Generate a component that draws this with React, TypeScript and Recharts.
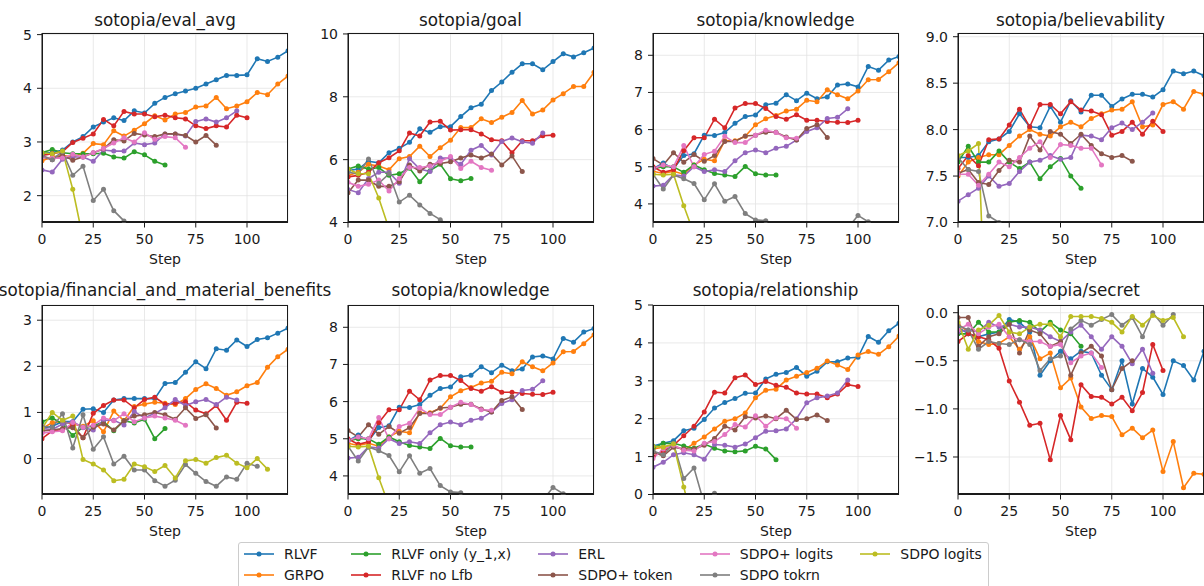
import React from "react";
import { LineChart, Line, XAxis, YAxis, CartesianGrid } from "recharts";

const STEPS = [0, 5, 10, 15, 20, 25, 30, 35, 40, 45, 50, 55, 60, 65, 70, 75, 80, 85, 90, 95, 100, 105, 110, 115, 120];
const X_TICKS = [0, 25, 50, 75, 100];

const SERIES_NAMES = [
  "RLVF",
  "GRPO",
  "RLVF only (y_1,x)",
  "RLVF no Lfb",
  "ERL",
  "SDPO+ token",
  "SDPO+ logits",
  "SDPO tokrn",
  "SDPO logits",
];
const COLORS = ["#1f77b4", "#ff7f0e", "#2ca02c", "#d62728", "#9467bd", "#8c564b", "#e377c2", "#7f7f7f", "#bcbd22"];

// one row per series, same order as SERIES_NAMES
const EVAL_AVG = [
  [2.8, 2.8, 2.85, 3.0, 3.1, 3.28, 3.37, 3.45, 3.4, 3.58, 3.54, 3.72, 3.83, 3.9, 3.95, 4.0, 4.08, 4.16, 4.24, 4.24, 4.25, 4.55, 4.5, 4.58, 4.7],
  [2.65, 2.72, 2.75, 2.72, 2.79, 2.97, 2.95, 3.21, 3.11, 3.22, 3.34, 3.49, 3.41, 3.52, 3.55, 3.65, 3.67, 3.83, 3.62, 3.67, 3.75, 3.92, 3.88, 4.08, 4.23],
  [2.8, 2.86, 2.8, 2.78, 2.78, 2.78, 2.79, 2.72, 2.7, 2.82, 2.76, 2.64, 2.57],
  [2.75, 2.78, 2.82, 2.99, 3.07, 3.15, 3.42, 3.3, 3.57, 3.52, 3.52, 3.47, 3.5, 3.45, 3.43, 3.3, 3.25, 3.3, 3.28, 3.5, 3.45],
  [2.48, 2.44, 2.68, 2.72, 2.72, 2.64, 2.85, 2.83, 2.83, 2.98, 2.95, 2.98, 3.15, 3.15, 3.11, 3.38, 3.43, 3.37, 3.45, 3.58],
  [2.72, 2.67, 2.75, 2.66, 2.72, 2.8, 2.87, 3.04, 3.02, 3.16, 3.13, 3.1, 3.15, 3.15, 3.12, 3.0, 3.12, 2.94],
  [2.72, 2.7, 2.7, 2.77, 2.72, 2.8, 2.88, 2.98, 3.08, 3.0, 3.17, 3.05, 3.1, 3.08, 2.9],
  [2.75, 2.67, 2.82, 2.38, 2.55, 1.91, 2.12, 1.72, 1.53, 1.3, 1.2, 1.1, 1.05, 1.1, 1.0, 0.95, 1.0, 0.9, 0.95, 1.0, 1.1, 1.05],
  [2.8, 2.78, 2.83, 2.12, 1.2, 0.9, 0.8, 0.7, 0.75, 0.8, 0.7, 0.75, 0.8, 0.7, 0.8, 0.85, 0.75, 0.8, 0.85, 0.8, 0.75, 0.8, 0.7],
];

const GOAL = [
  [5.65, 5.7, 5.95, 5.9, 6.22, 6.36, 6.55, 6.98, 6.87, 7.05, 7.05, 7.37, 7.65, 7.76, 8.2, 8.47, 8.78, 9.05, 9.05, 8.86, 9.12, 9.37, 9.27, 9.4, 9.55],
  [5.5, 5.6, 5.85, 5.8, 5.68, 6.03, 6.1, 6.43, 6.1, 6.38, 6.62, 7.02, 7.02, 7.3, 7.18, 7.35, 7.5, 7.88, 7.45, 7.58, 7.9, 8.1, 8.33, 8.33, 8.78],
  [5.7, 5.8, 5.7, 5.75, 5.5, 5.55, 5.73, 5.3, 5.65, 5.85, 5.39, 5.33, 5.4],
  [5.45, 5.5, 5.6, 5.9, 6.06, 6.28, 6.85, 6.75, 7.2, 7.22, 6.94, 6.95, 6.95, 6.82, 6.63, 6.6, 6.22, 6.6, 6.6, 6.76, 6.78],
  [5.05, 4.95, 5.4, 5.6, 5.6, 5.25, 6.03, 5.7, 5.62, 6.05, 6.05, 5.85, 6.3, 6.45, 6.15, 6.58, 6.69, 6.57, 6.52, 6.85],
  [4.95, 5.35, 5.35, 5.15, 5.15, 5.3, 5.83, 5.64, 5.85, 5.88, 5.93, 6.05, 6.15, 6.05, 6.18, 5.83, 6.12, 5.62],
  [5.28, 5.15, 5.22, 5.35, 5.0, 5.4, 5.75, 5.75, 5.8, 5.95, 6.1, 5.72, 5.95, 5.75, 5.66],
  [5.6, 5.55, 6.02, 5.25, 5.55, 4.65, 4.87, 4.56, 4.29, 4.09, 3.85, 3.7, 3.6, 3.5, 3.55, 3.45, 3.4, 3.5, 3.3, 3.35, 3.4, 3.3],
  [5.7, 5.55, 5.55, 4.78, 3.8, 3.3, 3.0, 2.8, 2.9, 2.7, 2.8, 2.9, 2.7, 2.8, 2.6, 2.7, 2.8, 2.7, 2.9, 2.8, 2.7, 2.8, 2.7],
];

const KNOWLEDGE = [
  [4.95, 5.1, 4.95, 5.3, 5.35, 5.85, 5.84, 5.92, 6.17, 6.35, 6.39, 6.67, 6.71, 6.94, 6.78, 6.98, 6.83, 6.88, 7.2, 7.23, 7.15, 7.7, 7.6, 7.87, 7.97],
  [4.88, 4.82, 4.88, 4.8, 5.05, 5.2, 5.16, 5.7, 5.7, 5.82, 6.13, 6.29, 6.38, 6.5, 6.55, 6.79, 6.75, 7.07, 6.94, 6.83, 7.04, 7.34, 7.35, 7.56, 7.8],
  [4.95, 5.0, 5.0, 4.85, 5.05, 4.92, 4.82, 4.78, 4.74, 5.01, 4.81, 4.78, 4.78],
  [5.0, 4.85, 4.92, 5.43, 5.78, 5.78, 6.28, 6.05, 6.58, 6.7, 6.7, 6.57, 6.35, 6.28, 6.4, 6.25, 6.25, 6.22, 6.2, 6.19, 6.25],
  [4.48, 4.5, 4.78, 4.75, 5.0, 4.87, 4.92, 4.87, 5.16, 5.38, 5.45, 5.38, 5.5, 5.55, 5.72, 5.95, 6.05, 6.3, 6.33, 6.56],
  [5.22, 5.05, 5.38, 5.12, 5.33, 5.15, 5.3, 5.68, 5.68, 5.83, 5.85, 5.93, 5.93, 5.8, 5.72, 6.03, 6.13, 5.79],
  [4.95, 5.05, 5.0, 5.57, 5.0, 5.33, 5.42, 5.82, 5.65, 5.65, 5.85, 5.98, 5.92, 5.78, 5.77],
  [4.8, 4.4, 4.78, 4.68, 4.55, 4.11, 4.54, 4.07, 4.2, 3.74, 3.57, 3.55, 3.4, 3.3, 3.2, 3.3, 3.1, 3.2, 3.3, 3.35, 3.69, 3.52],
  [4.8, 4.78, 4.8, 3.95, 3.2, 3.0, 2.8, 2.9, 2.7, 2.8, 2.6, 2.7, 2.8, 2.7, 2.6, 2.7, 2.8, 2.7, 2.6, 2.7, 2.8, 2.7, 2.6],
];

const BELIEVABILITY = [
  [7.7, 7.7, 7.72, 7.87, 7.9, 7.98, 8.17, 8.03, 8.02, 8.25, 8.08, 8.31, 8.19, 8.37, 8.37, 8.25, 8.33, 8.38, 8.38, 8.35, 8.43, 8.63, 8.6, 8.63, 8.58],
  [7.5, 7.65, 7.7, 7.73, 7.73, 7.83, 7.93, 8.0, 7.95, 7.93, 8.03, 8.08, 8.03, 8.12, 8.17, 8.21, 8.22, 8.3, 8.03, 8.05, 8.27, 8.3, 8.22, 8.41, 8.38],
  [7.65, 7.82, 7.65, 7.65, 7.77, 7.65, 7.58, 7.65, 7.47, 7.6, 7.69, 7.5, 7.37],
  [7.58, 7.72, 7.61, 7.89, 7.9, 8.05, 8.22, 8.03, 8.27, 8.27, 8.17, 8.3, 8.21, 8.2, 8.16, 7.94, 7.98, 8.08, 7.95, 8.09, 7.98],
  [7.23, 7.3, 7.37, 7.5, 7.39, 7.42, 7.55, 7.65, 7.67, 7.72, 7.68, 7.7, 7.94, 7.93, 7.89, 8.02, 8.07, 8.0, 8.08, 8.18],
  [7.53, 7.57, 7.43, 7.41, 7.56, 7.67, 7.65, 7.93, 7.78, 7.98, 7.95, 7.85, 7.95, 7.83, 7.74, 7.7, 7.72, 7.66],
  [7.52, 7.52, 7.4, 7.52, 7.65, 7.6, 7.7, 7.8, 7.87, 7.7, 7.84, 7.83, 7.8, 7.8, 7.62],
  [7.7, 7.57, 7.55, 7.07, 7.0, 6.9, 6.8, 6.85, 6.7, 6.75, 6.6, 6.7, 6.65, 6.6, 6.7, 6.55, 6.6, 6.65, 6.5, 6.6, 6.55, 6.6],
  [7.72, 7.77, 7.85, 5.0, 4.8, 4.6, 4.7, 4.5, 4.6, 4.5, 4.4, 4.6, 4.5, 4.4, 4.5, 4.6, 4.5, 4.4, 4.5, 4.6, 4.5, 4.4, 4.5],
];

const FINANCIAL = [
  [0.65, 0.7, 0.8, 0.8, 1.07, 1.08, 1.0, 1.27, 1.3, 1.3, 1.3, 1.3, 1.63, 1.65, 1.87, 2.1, 1.95, 2.38, 2.35, 2.57, 2.43, 2.58, 2.62, 2.72, 2.83],
  [0.65, 0.78, 0.8, 0.75, 0.7, 0.82, 0.58, 1.03, 0.82, 1.13, 1.18, 1.22, 1.2, 1.17, 1.3, 1.5, 1.62, 1.52, 1.37, 1.45, 1.58, 1.65, 1.98, 2.21, 2.37],
  [0.8, 0.88, 0.75, 0.5, 0.68, 0.7, 0.8, 0.6, 0.82, 0.77, 0.85, 0.43, 0.65],
  [0.43, 0.6, 0.63, 0.72, 0.45, 0.98, 1.15, 1.27, 1.27, 1.1, 1.28, 1.33, 1.18, 1.2, 1.23, 1.05, 0.97, 1.15, 0.83, 1.22, 1.2],
  [0.65, 0.63, 0.75, 0.8, 0.67, 0.62, 0.83, 0.83, 0.73, 1.02, 0.88, 0.98, 1.1, 1.28, 1.15, 1.23, 1.28, 1.17, 1.33, 1.27],
  [0.6, 0.62, 0.65, 0.67, 0.45, 0.68, 0.75, 0.62, 0.82, 0.92, 0.95, 1.0, 0.95, 0.85, 1.1, 0.87, 0.95, 0.66],
  [0.55, 0.58, 0.6, 0.78, 0.68, 0.72, 0.88, 0.82, 0.97, 0.8, 0.88, 0.92, 0.88, 0.83, 0.72],
  [0.7, 0.68, 0.97, 0.23, 0.95, 0.2, 0.47, -0.12, 0.05, -0.25, -0.25, -0.48, -0.6, -0.47, -0.13, -0.32, -0.5, -0.6, -0.4, -0.45, -0.1, -0.17],
  [0.65, 1.0, 0.83, 0.92, -0.02, -0.12, -0.25, -0.48, -0.45, -0.12, -0.18, -0.28, -0.15, -0.42, -0.05, -0.02, -0.1, 0.02, 0.07, -0.1, -0.2, 0.0, -0.23],
];

const RELATIONSHIP = [
  [1.28, 1.35, 1.42, 1.68, 1.75, 1.98, 2.28, 2.43, 2.53, 2.67, 2.68, 3.05, 3.17, 3.22, 3.35, 3.12, 3.25, 3.5, 3.5, 3.6, 3.62, 4.17, 4.02, 4.32, 4.52],
  [1.2, 1.25, 1.3, 1.17, 1.35, 1.52, 1.73, 1.93, 2.0, 2.15, 2.55, 2.75, 2.78, 3.02, 3.12, 3.22, 3.33, 3.52, 3.42, 3.3, 3.68, 3.77, 3.7, 3.9, 4.18],
  [1.22, 1.35, 1.35, 1.28, 1.22, 1.33, 1.22, 1.15, 1.13, 1.15, 1.27, 1.2, 0.92],
  [1.0, 1.15, 1.3, 1.55, 1.8, 2.18, 2.7, 2.68, 3.08, 3.15, 2.9, 2.98, 2.88, 2.83, 2.68, 2.65, 2.65, 2.55, 2.65, 2.9, 2.85],
  [0.72, 0.85, 1.05, 1.1, 1.05, 0.93, 1.32, 1.3, 1.25, 1.33, 1.5, 1.67, 1.68, 1.73, 2.0, 2.42, 2.55, 2.6, 2.68, 3.02],
  [1.12, 1.02, 1.25, 1.2, 1.2, 1.3, 1.48, 1.8, 1.7, 2.05, 2.02, 2.07, 2.0, 2.22, 1.98, 2.0, 2.1, 1.95],
  [0.95, 1.2, 1.3, 1.17, 1.15, 1.35, 1.4, 1.58, 1.85, 1.78, 2.08, 1.8, 2.02, 2.0, 1.75],
  [1.15, 1.05, 1.35, 0.42, 0.7, -0.25, 0.03, -0.3, -0.5, -0.4, -0.6, -0.5, -0.7, -0.6, -0.5, -0.7, -0.6, -0.8, -0.7, -0.6, -0.7, -0.8],
  [1.27, 1.25, 1.33, 0.2, -0.9, -1.0, -1.1, -1.2, -1.1, -1.0, -1.2, -1.1, -1.0, -1.1, -1.2, -1.1, -1.0, -1.1, -1.2, -1.1, -1.0, -1.1, -1.2],
];

const SECRET = [
  [-0.15, -0.22, -0.25, -0.22, -0.2, -0.07, -0.1, -0.2, -0.65, -0.5, -0.4, -0.48, -0.4, -0.42, -0.65, -0.8, -0.5, -0.95, -0.58, -0.67, -0.85, -0.5, -0.55, -0.7, -0.4],
  [-0.12, -0.2, -0.3, -0.33, -0.32, -0.25, -0.38, -0.25, -0.48, -0.42, -0.78, -0.68, -0.98, -1.1, -1.07, -1.08, -1.27, -1.2, -1.3, -1.22, -1.65, -1.34, -1.82, -1.67, -1.68],
  [-0.22, -0.22, -0.1, -0.2, -0.2, -0.1, -0.08, -0.1, -0.2, -0.1, -0.18, -0.22, -0.35],
  [-0.3, -0.22, -0.25, -0.28, -0.37, -0.71, -0.93, -1.17, -1.15, -1.53, -1.07, -1.32, -0.75, -0.87, -0.88, -0.95, -0.88, -1.02, -0.83, -0.33, -0.6],
  [-0.2, -0.18, -0.2, -0.1, -0.15, -0.12, -0.15, -0.15, -0.18, -0.25, -0.3, -0.2, -0.13, -0.25, -0.38, -0.25, -0.35, -0.53, -0.38, -0.63],
  [-0.05, -0.05, -0.35, -0.25, -0.22, -0.12, -0.42, -0.18, -0.22, -0.35, -0.3, -0.65, -0.42, -0.35, -0.45, -0.8, -0.58, -0.5],
  [-0.18, -0.12, -0.22, -0.15, -0.12, -0.25, -0.28, -0.3, -0.3, -0.35, -0.33, -0.52, -0.45, -0.42, -0.57],
  [-0.13, -0.18, -0.38, -0.3, -0.32, -0.33, -0.28, -0.33, -0.6, -0.48, -0.45, -0.17, -0.08, -0.13, -0.07, -0.02, -0.13, -0.05, -0.25, 0.0, -0.13, -0.02],
  [-0.1, -0.38, -0.18, -0.13, -0.03, -0.2, -0.22, -0.15, -0.12, -0.12, -0.25, -0.04, -0.04, -0.04, -0.06, -0.1, -0.2, -0.04, -0.13, -0.03, -0.08, -0.05, -0.25],
];

// layout
const COL_X = [42, 347.5, 652.5, 957.5];
const ROW_Y = [32.5, 304.5];
const TITLE_GAP = [13, 14.5];
const PLOT_W = 246;
const PLOT_H = 189.5;
const AX_W = 56;
const TOP = 30;
const INK = "#1a1a1a";

const intFmt = (v: number) => String(v);
const oneDec = (v: number) => v.toFixed(1).replace("-", "\u2212");

const PANELS = [
  { title: "sotopia/eval_avg", col: 0, row: 0, series: EVAL_AVG, domain: [1.5, 5.03], ticks: [2, 3, 4, 5], fmt: intFmt },
  { title: "sotopia/goal", col: 1, row: 0, series: GOAL, domain: [4, 10.03], ticks: [4, 6, 8, 10], fmt: intFmt },
  { title: "sotopia/knowledge", col: 2, row: 0, series: KNOWLEDGE, domain: [3.5, 8.6], ticks: [4, 5, 6, 7, 8], fmt: intFmt },
  { title: "sotopia/believability", col: 3, row: 0, series: BELIEVABILITY, domain: [7.0, 9.04], ticks: [7, 7.5, 8, 8.5, 9], fmt: oneDec },
  { title: "sotopia/financial_and_material_benefits", col: 0, row: 1, series: FINANCIAL, domain: [-0.78, 3.33], ticks: [0, 1, 2, 3], fmt: intFmt },
  { title: "sotopia/knowledge", col: 1, row: 1, series: KNOWLEDGE, domain: [3.5, 8.6], ticks: [4, 5, 6, 7, 8], fmt: intFmt },
  { title: "sotopia/relationship", col: 2, row: 1, series: RELATIONSHIP, domain: [0, 5], ticks: [0, 1, 2, 3, 4, 5], fmt: intFmt },
  { title: "sotopia/secret", col: 3, row: 1, series: SECRET, domain: [-1.89, 0.08], ticks: [-1.5, -1.0, -0.5, 0.0], fmt: oneDec },
];

type PanelProps = (typeof PANELS)[number];

const Panel: React.FC<PanelProps> = ({ title, col, row, series, domain, ticks, fmt }) => {
  const data = STEPS.map((step, i) => {
    const r: Record<string, number> = { step };
    series.forEach((arr, s) => {
      if (i < arr.length) r[`s${s}`] = arr[i];
    });
    return r;
  });
  const w = AX_W + PLOT_W + 6;
  const h = TOP + PLOT_H + 48;

  return (
    <div style={{ position: "absolute", left: COL_X[col] - AX_W, top: ROW_Y[row] - TOP, width: w, height: h }}>
      <div
        style={{
          position: "absolute",
          left: AX_W + PLOT_W / 2,
          top: TOP - TITLE_GAP[row],
          transform: "translate(-50%, -50%)",
          whiteSpace: "nowrap",
          fontSize: 16.8,
          color: INK,
        }}
      >
        {title}
      </div>
      <LineChart width={w} height={h} data={data} margin={{ top: TOP, right: 6, left: 0, bottom: 0 }}>
        <CartesianGrid stroke="#e3e3e3" strokeWidth={0.8} />
        <XAxis
          dataKey="step"
          type="number"
          domain={[0, 120]}
          ticks={X_TICKS}
          allowDataOverflow
          height={48}
          stroke={INK}
          tickSize={5}
          tickMargin={6.5}
          tick={{ fill: INK, fontSize: 14 }}
          label={{ value: "Step", position: "insideBottom", offset: 7, fill: INK, fontSize: 14 }}
        />
        <YAxis
          type="number"
          domain={domain}
          ticks={ticks}
          allowDataOverflow
          width={AX_W}
          stroke={INK}
          tickSize={5}
          tickMargin={5}
          tickFormatter={fmt}
          tick={{ fill: INK, fontSize: 14 }}
        />
        {series.map((_, s) => (
          <Line
            key={s}
            dataKey={`s${s}`}
            type="linear"
            stroke={COLORS[s]}
            strokeWidth={1.6}
            dot={{ r: 2.5, fill: COLORS[s], stroke: COLORS[s], strokeWidth: 0 }}
            isAnimationActive={false}
          />
        ))}
      </LineChart>
      <div
        style={{
          position: "absolute",
          left: AX_W,
          top: TOP,
          width: PLOT_W,
          height: PLOT_H,
          border: `1px solid ${INK}`,
          boxSizing: "border-box",
          pointerEvents: "none",
        }}
      />
    </div>
  );
};

const LegendBox: React.FC = () => (
  <div
    style={{
      position: "absolute",
      left: 238,
      top: 542,
      width: 751,
      height: 52,
      boxSizing: "border-box",
      border: "1px solid #cccccc",
      borderRadius: 3,
      padding: "1px 5px",
      display: "grid",
      gridTemplateRows: "repeat(2, 20.4px)",
      gridAutoFlow: "column",
      columnGap: 26,
      fontSize: 14,
      color: INK,
      background: "#fff",
    }}
  >
    {SERIES_NAMES.map((name, i) => (
      <div key={name} style={{ display: "flex", alignItems: "center", whiteSpace: "nowrap" }}>
        <svg width={30} height={10} style={{ marginRight: 10 }}>
          <line x1={0} y1={5} x2={30} y2={5} stroke={COLORS[i]} strokeWidth={1.6} />
          <circle cx={15} cy={5} r={2.5} fill={COLORS[i]} />
        </svg>
        {name}
      </div>
    ))}
  </div>
);

const App: React.FC = () => (
  <div
    style={{
      position: "absolute",
      left: 0,
      top: 0,
      width: 1204,
      height: 586,
      overflow: "hidden",
      background: "#fff",
      fontFamily: "'DejaVu Sans', sans-serif",
    }}
  >
    {PANELS.map((p, i) => (
      <Panel key={i} {...p} />
    ))}
    <LegendBox />
  </div>
);

export default App;
